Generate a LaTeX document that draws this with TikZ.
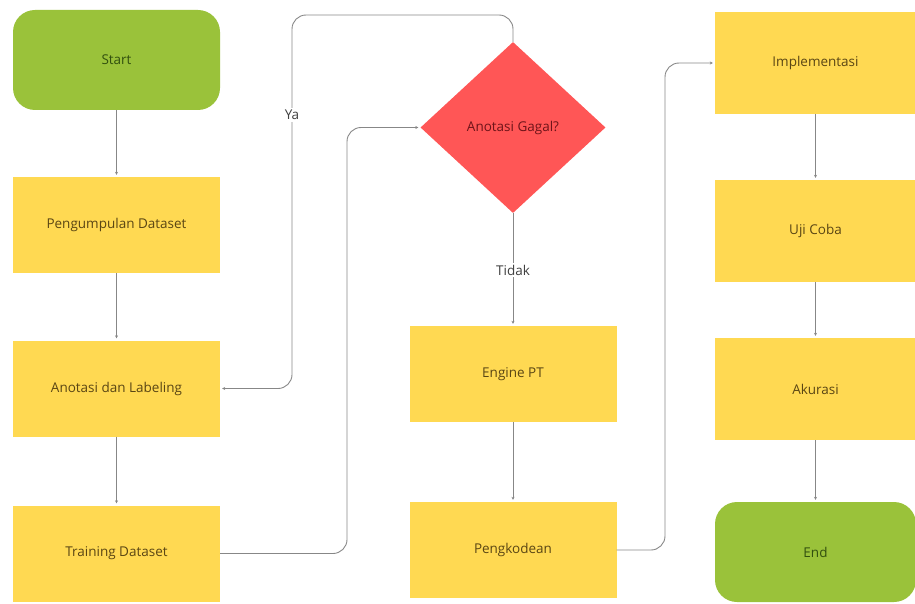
\documentclass[tikz,border=0pt]{standalone}
\usepackage{fontspec}
\setmainfont{Open Sans}
\usetikzlibrary{shapes.geometric,arrows.meta}
\definecolor{gfill}{RGB}{154,194,58}
\definecolor{gtext}{RGB}{50,80,15}
\definecolor{yfill}{RGB}{255,217,82}
\definecolor{ytext}{RGB}{90,70,20}
\definecolor{rfill}{RGB}{255,86,86}
\definecolor{rtext}{RGB}{110,20,25}
\definecolor{lcol}{RGB}{135,135,135}
\begin{document}
\begin{tikzpicture}[x=1pt,y=-1pt,
  every node/.style={font=\fontsize{13.5}{15}\selectfont},
  term/.style={fill=gfill,text=gtext,rounded corners=22pt,minimum width=207pt,minimum height=100pt,inner sep=0pt},
  proc/.style={fill=yfill,text=ytext,minimum width=207pt,minimum height=96pt,inner sep=0pt},
  proc2/.style={fill=yfill,text=ytext,minimum width=201pt,minimum height=102pt,inner sep=0pt},
  dec/.style={diamond,fill=rfill,text=rtext,minimum width=185pt,minimum height=171pt,inner sep=0pt,aspect=1.08},
  conn/.style={draw=lcol,line width=0.9pt,-{Stealth[length=3pt,width=3pt]},rounded corners=14pt,shorten >=2pt},
  lbl/.style={fill=white,text=black!75,inner sep=2pt}
]
\useasboundingbox (0,0) rectangle (915,604);
% left column
\node[term] (start) at (116.5,60) {Start};
\node[proc] (peng) at (116.5,225) {Pengumpulan Dataset};
\node[proc] (anot) at (116.5,388.5) {Anotasi dan Labeling};
\node[proc] (train) at (116.5,553.5) {Training Dataset};
% middle column
\node[dec] (gagal) at (513,127.5) {Anotasi Gagal?};
\node[proc] (engine) at (513,374) {Engine PT};
\node[proc] (kode) at (513,550) {Pengkodean};
% right column
\node[proc2] (impl) at (815.5,63) {Implementasi};
\node[proc2] (uji) at (815.5,231) {Uji Coba};
\node[proc2] (akur) at (815.5,389) {Akurasi};
\node[term,minimum width=201pt] (end) at (815.5,552) {End};
% connectors
\draw[conn] (start) -- (peng);
\draw[conn] (peng) -- (anot);
\draw[conn] (anot) -- (train);
\coordinate (ya1) at (292,15);
\draw[conn] (gagal.north) |- (ya1) |- (anot.east);
\node[lbl] (yalbl) at (292,115) {Ya};
\coordinate (tr1) at (347,300);
\draw[conn] (train.east) -| (tr1) |- (gagal.west);
\draw[conn] (gagal.south) -- (engine.north);
\node[lbl] (tidak) at (513,270) {Tidak};
\draw[conn] (engine) -- (kode);
\coordinate (pk1) at (665,300);
\draw[conn] (kode.east) -| (pk1) |- (impl.west);
\draw[conn] (impl) -- (uji);
\draw[conn] (uji) -- (akur);
\draw[conn] (akur) -- (end);
\end{tikzpicture}
\end{document}
